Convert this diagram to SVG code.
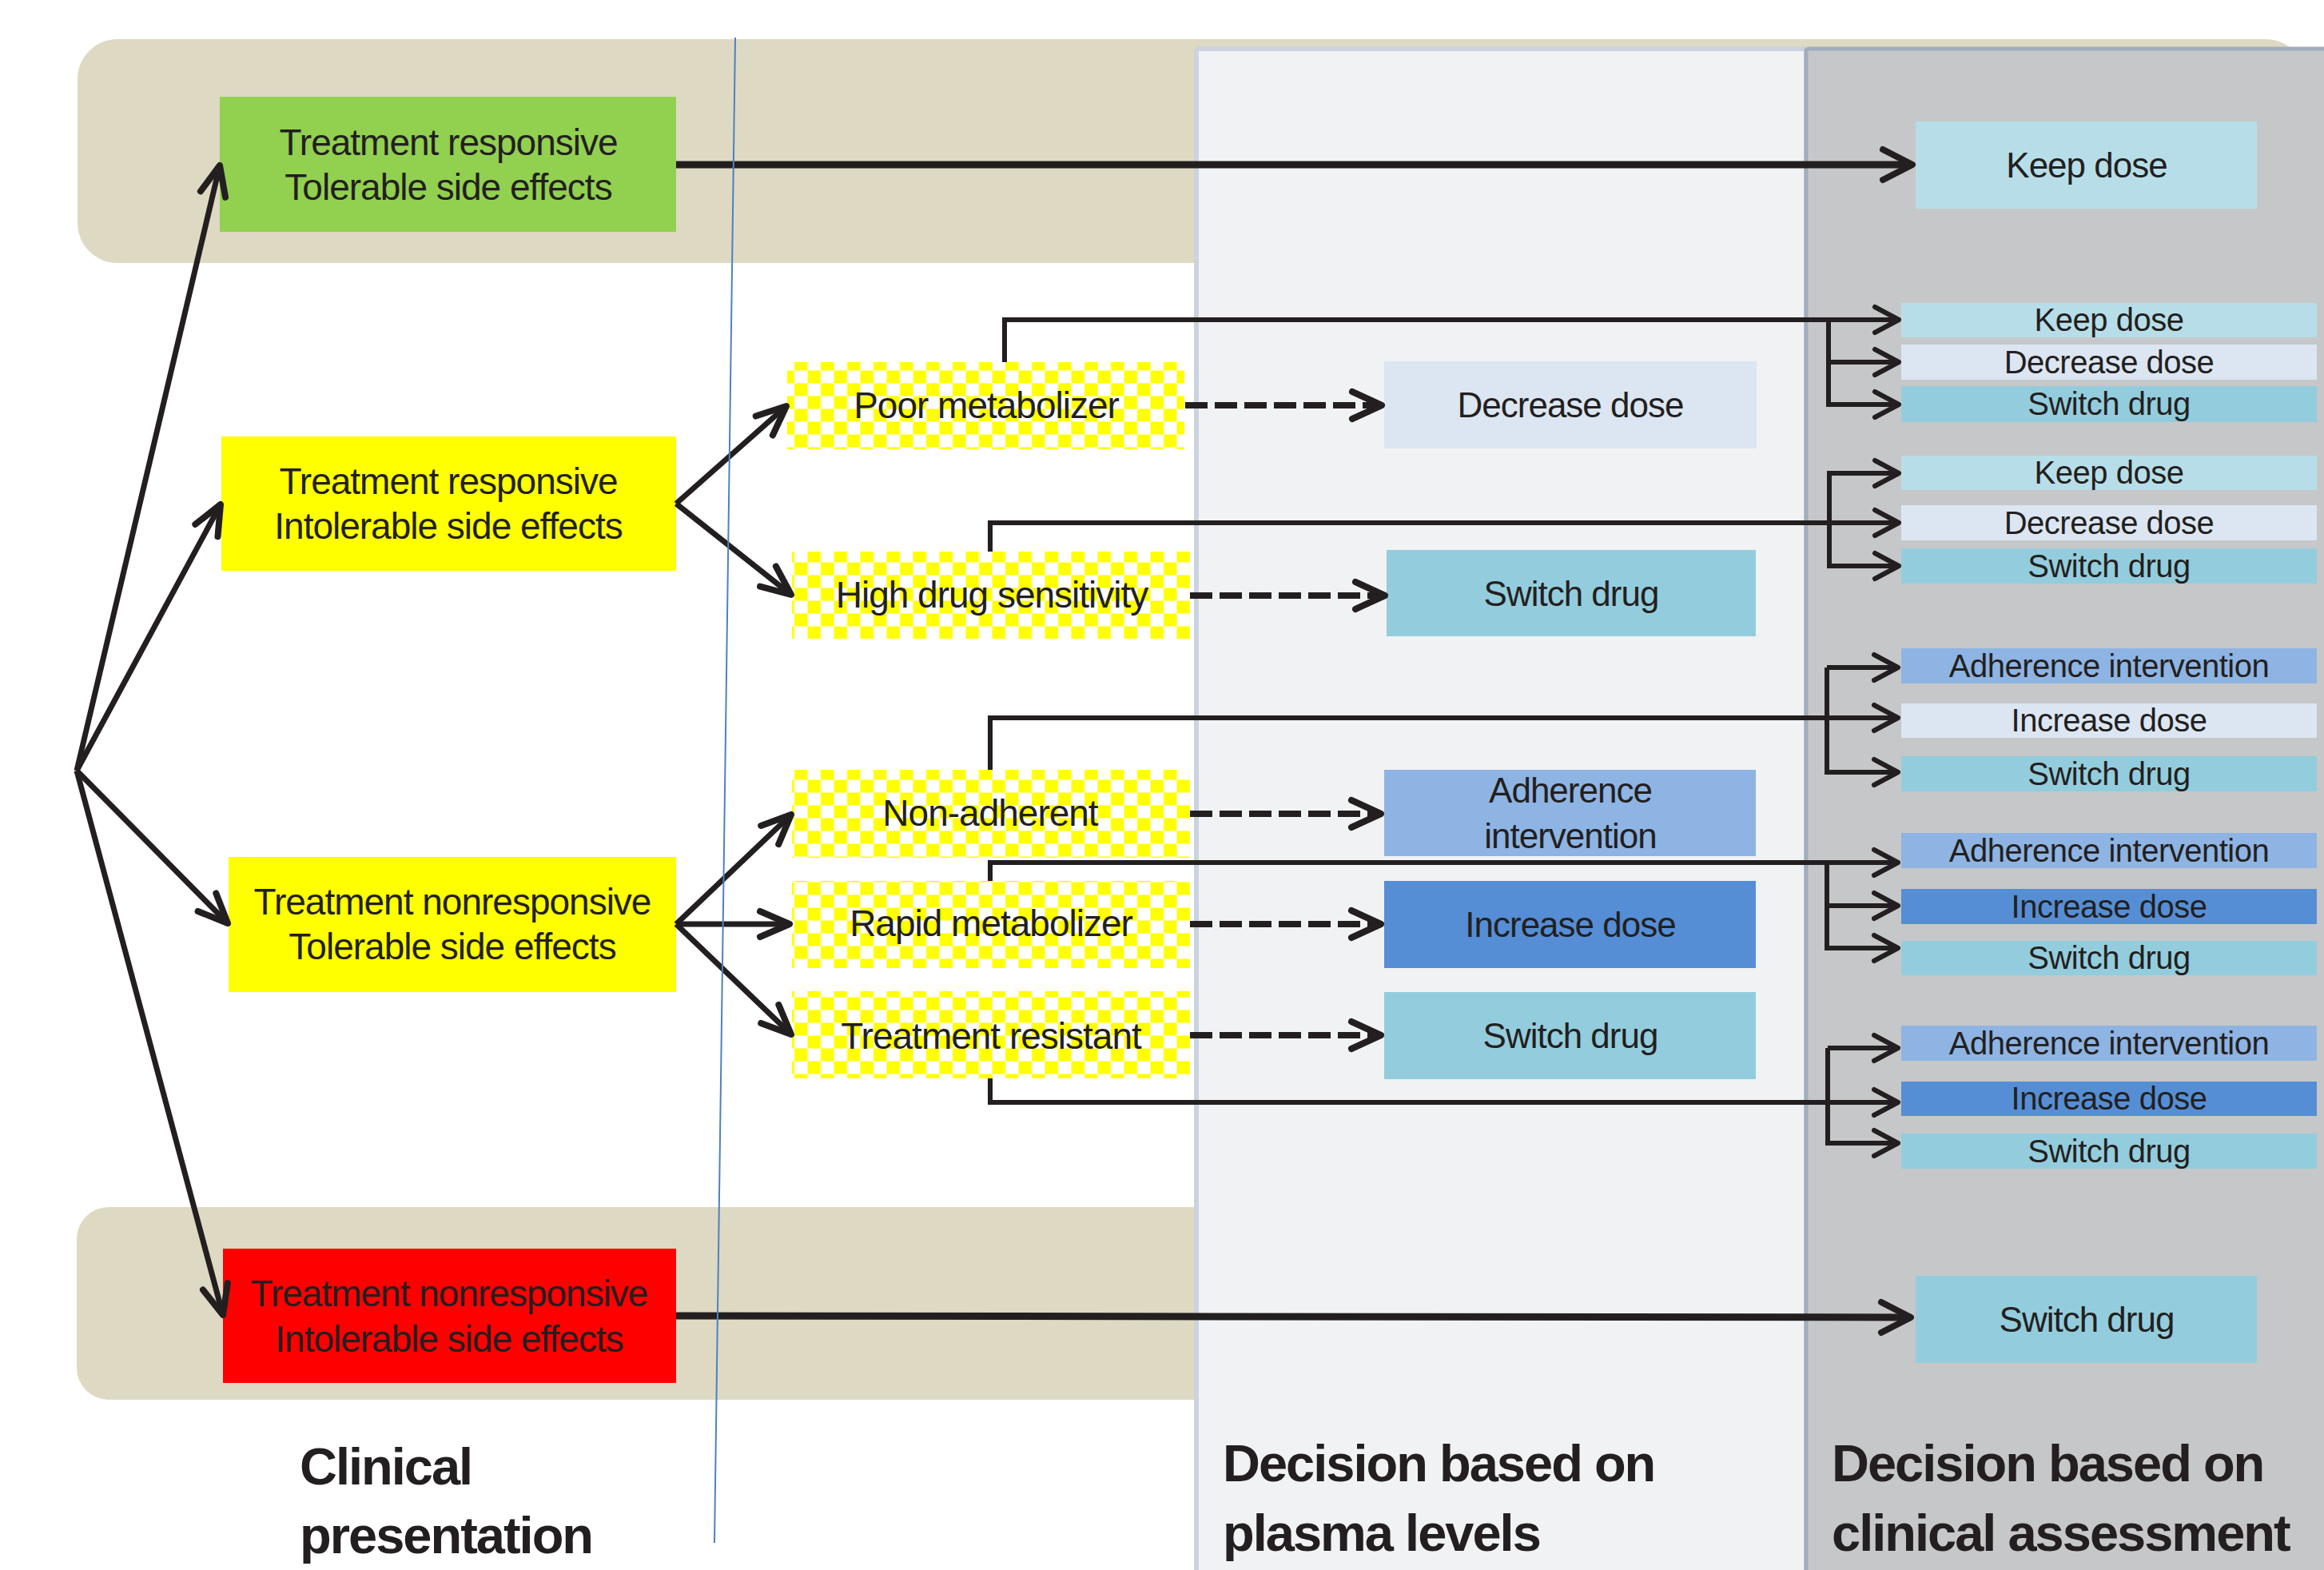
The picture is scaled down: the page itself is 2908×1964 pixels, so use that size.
<svg xmlns="http://www.w3.org/2000/svg" width="2908" height="1964" viewBox="0 0 2908 1964">
<style>
.t{font-family:"Liberation Sans",Arial,sans-serif;fill:#231f20;text-anchor:middle}
.n46{font-size:46px;letter-spacing:-1px}
.n44{font-size:44px;letter-spacing:-1px}
.n40{font-size:40px;letter-spacing:-0.5px}
.h{font-family:"Liberation Sans",Arial,sans-serif;fill:#231f20;font-weight:bold;font-size:65px;letter-spacing:-2px}
.main{fill:none;stroke:#231f20;stroke-width:9}
.fan{fill:none;stroke:#231f20;stroke-width:7}
.dash{fill:none;stroke:#231f20;stroke-width:8;stroke-dasharray:28 9}
.con{fill:none;stroke:#231f20;stroke-width:6;stroke-linejoin:miter}
.kd{fill:#b7dee8}.dd{fill:#dce6f2}.sd{fill:#93cddd}.ai{fill:#8eb4e3}.id{fill:#558ed5}
</style>
<defs>
<pattern id="chk" patternUnits="userSpaceOnUse" x="977.5" y="447.5" width="33" height="32">
<rect width="33" height="32" fill="#ffffff"/>
<rect x="16.5" y="0" width="16.5" height="16" fill="#ffff00"/>
<rect x="0" y="16" width="16.5" height="16" fill="#ffff00"/>
</pattern>
<marker id="ahL" markerUnits="userSpaceOnUse" viewBox="-50 -30 60 60" markerWidth="60" markerHeight="60" refX="0" refY="0" orient="auto" overflow="visible">
<path d="M-37,-19 L0,0 L-37,19" fill="none" stroke="#231f20" stroke-width="8" stroke-linecap="round" stroke-linejoin="round" stroke-dasharray="none"/>
</marker>
<marker id="ahD" markerUnits="userSpaceOnUse" viewBox="-50 -30 60 60" markerWidth="60" markerHeight="60" refX="0" refY="0" orient="auto" overflow="visible">
<path d="M-37,-17 L0,0 L-37,17" fill="none" stroke="#231f20" stroke-width="8" stroke-linecap="round" stroke-linejoin="round" stroke-dasharray="none"/>
</marker>
<marker id="ahF" markerUnits="userSpaceOnUse" viewBox="-50 -30 60 60" markerWidth="60" markerHeight="60" refX="0" refY="0" orient="auto" overflow="visible">
<path d="M-37,-16 L0,0 L-37,16" fill="none" stroke="#231f20" stroke-width="8" stroke-linecap="round" stroke-linejoin="round" stroke-dasharray="none"/>
</marker>
<marker id="ahS" markerUnits="userSpaceOnUse" viewBox="-50 -30 60 60" markerWidth="60" markerHeight="60" refX="0" refY="0" orient="auto" overflow="visible">
<path d="M-30,-16 L0,0 L-30,16" fill="none" stroke="#231f20" stroke-width="6" stroke-linecap="round" stroke-linejoin="round" stroke-dasharray="none"/>
</marker>
</defs>

<rect width="2908" height="1964" fill="#ffffff"/>

<g id="bands">
<rect x="97" y="49" width="2788" height="280" rx="50" ry="50" fill="#ddd9c3"/>
<rect x="96" y="1510" width="1520" height="241" rx="40" ry="40" fill="#ddd9c3"/>
</g>

<g id="panels">
<rect x="1497" y="61" width="763" height="1920" rx="3" fill="#f1f2f4" stroke="#cad3de" stroke-width="6"/>
<rect x="2260" y="61" width="660" height="1920" rx="3" fill="#c6c7c9" stroke="#a1adbd" stroke-width="5"/>
</g>

<g id="n-green">
<rect x="275" y="121" width="571" height="169" fill="#92d050"/>
<text class="t n46" x="561" y="194">Treatment responsive</text>
<text class="t n46" x="561" y="250">Tolerable side effects</text>
</g>
<g id="n-yellow1">
<rect x="277" y="546" width="569" height="168" fill="#ffff00"/>
<text class="t n46" x="561" y="618">Treatment responsive</text>
<text class="t n46" x="561" y="674">Intolerable side effects</text>
</g>
<g id="n-yellow2">
<rect x="286" y="1072" width="560" height="169" fill="#ffff00"/>
<text class="t n46" x="566" y="1144">Treatment nonresponsive</text>
<text class="t n46" x="566" y="1200">Tolerable side effects</text>
</g>
<g id="n-red">
<rect x="279" y="1562" width="567" height="168" fill="#ff0000"/>
<text class="t n46" x="562" y="1634">Treatment nonresponsive</text>
<text class="t n46" x="562" y="1691">Intolerable side effects</text>
</g>

<g id="n-poor">
<rect x="985" y="453" width="497" height="109" fill="url(#chk)"/>
<text class="t n46" x="1234" y="523">Poor metabolizer</text>
</g>
<g id="n-high">
<rect x="991" y="690" width="498" height="109" fill="url(#chk)"/>
<text class="t n46" x="1241" y="760">High drug sensitivity</text>
</g>
<g id="n-nonadh">
<rect x="991" y="963" width="498" height="110" fill="url(#chk)"/>
<text class="t n46" x="1239" y="1033">Non-adherent</text>
</g>
<g id="n-rapid">
<rect x="991" y="1102" width="498" height="109" fill="url(#chk)"/>
<text class="t n46" x="1240" y="1171">Rapid metabolizer</text>
</g>
<g id="n-resist">
<rect x="991" y="1240" width="498" height="109" fill="url(#chk)"/>
<text class="t n46" x="1240" y="1312">Treatment resistant</text>
</g>

<g id="p-decrease">
<rect x="1732" y="452" width="466" height="109" class="dd"/>
<text class="t n44" x="1965" y="522">Decrease dose</text>
</g>
<g id="p-switch1">
<rect x="1735" y="688" width="462" height="108" class="sd"/>
<text class="t n44" x="1966" y="758">Switch drug</text>
</g>
<g id="p-adherence">
<rect x="1732" y="963" width="465" height="108" class="ai"/>
<text class="t n44" x="1965" y="1004">Adherence</text>
<text class="t n44" x="1965" y="1061">intervention</text>
</g>
<g id="p-increase">
<rect x="1732" y="1102" width="465" height="109" class="id"/>
<text class="t n44" x="1965" y="1172">Increase dose</text>
</g>
<g id="p-switch2">
<rect x="1732" y="1241" width="465" height="109" class="sd"/>
<text class="t n44" x="1965" y="1311">Switch drug</text>
</g>

<g id="c-keep-top">
<rect x="2397" y="152" width="427" height="109" class="kd"/>
<text class="t n44" x="2611" y="222">Keep dose</text>
</g>
<g id="c-switch-bottom">
<rect x="2397" y="1596" width="427" height="109" class="sd"/>
<text class="t n44" x="2611" y="1666">Switch drug</text>
</g>

<g id="c-group1">
<rect x="2379" y="379" width="520" height="43" class="kd"/>
<text class="t n40" x="2639" y="414">Keep dose</text>
<rect x="2379" y="431" width="520" height="44" class="dd"/>
<text class="t n40" x="2639" y="467">Decrease dose</text>
<rect x="2379" y="483" width="520" height="45" class="sd"/>
<text class="t n40" x="2639" y="519">Switch drug</text>
</g>
<g id="c-group2">
<rect x="2379" y="570" width="520" height="43" class="kd"/>
<text class="t n40" x="2639" y="605">Keep dose</text>
<rect x="2379" y="632" width="520" height="44" class="dd"/>
<text class="t n40" x="2639" y="668">Decrease dose</text>
<rect x="2379" y="686" width="520" height="44" class="sd"/>
<text class="t n40" x="2639" y="722">Switch drug</text>
</g>
<g id="c-group3">
<rect x="2379" y="811" width="520" height="44" class="ai"/>
<text class="t n40" x="2639" y="847">Adherence intervention</text>
<rect x="2379" y="880" width="520" height="43" class="dd"/>
<text class="t n40" x="2639" y="915">Increase dose</text>
<rect x="2379" y="946" width="520" height="44" class="sd"/>
<text class="t n40" x="2639" y="982">Switch drug</text>
</g>
<g id="c-group4">
<rect x="2379" y="1042" width="520" height="44" class="ai"/>
<text class="t n40" x="2639" y="1078">Adherence intervention</text>
<rect x="2379" y="1112" width="520" height="44" class="id"/>
<text class="t n40" x="2639" y="1148">Increase dose</text>
<rect x="2379" y="1177" width="520" height="43" class="sd"/>
<text class="t n40" x="2639" y="1212">Switch drug</text>
</g>
<g id="c-group5">
<rect x="2379" y="1283" width="520" height="44" class="ai"/>
<text class="t n40" x="2639" y="1319">Adherence intervention</text>
<rect x="2379" y="1353" width="520" height="43" class="id"/>
<text class="t n40" x="2639" y="1388">Increase dose</text>
<rect x="2379" y="1418" width="520" height="44" class="sd"/>
<text class="t n40" x="2639" y="1454">Switch drug</text>
</g>

<g id="connectors">
<path class="main" d="M846,206 L2393,206" marker-end="url(#ahL)"/>
<path class="main" d="M846,1646 L2391,1648" marker-end="url(#ahL)"/>

<path class="fan" d="M96,964 L275,207" marker-end="url(#ahF)"/>
<path class="fan" d="M96,964 L276,631" marker-end="url(#ahF)"/>
<path class="fan" d="M96,964 L285,1155" marker-end="url(#ahF)"/>
<path class="fan" d="M96,964 L279,1645" marker-end="url(#ahF)"/>

<path class="fan" d="M846,630 L984,508" marker-end="url(#ahF)"/>
<path class="fan" d="M846,630 L990,744" marker-end="url(#ahF)"/>
<path class="fan" d="M846,1156 L990,1019" marker-end="url(#ahF)"/>
<path class="fan" d="M846,1156 L988,1156" marker-end="url(#ahF)"/>
<path class="fan" d="M846,1156 L990,1294" marker-end="url(#ahF)"/>

<path class="dash" d="M1483,507 L1729,507" marker-end="url(#ahD)"/>
<path class="dash" d="M1489,745 L1733,745" marker-end="url(#ahD)"/>
<path class="dash" d="M1489,1018 L1728,1018" marker-end="url(#ahD)"/>
<path class="dash" d="M1489,1156 L1728,1156" marker-end="url(#ahD)"/>
<path class="dash" d="M1489,1295 L1728,1295" marker-end="url(#ahD)"/>

<path class="con" d="M1257,453 L1257,400 L2376,400" marker-end="url(#ahS)"/>
<path class="con" d="M2288,400 L2288,506 L2376,506" marker-end="url(#ahS)"/>
<path class="con" d="M2288,453 L2376,453" marker-end="url(#ahS)"/>

<path class="con" d="M1239,690 L1239,654 L2376,654" marker-end="url(#ahS)"/>
<path class="con" d="M2376,592 L2289,592 L2289,708 L2376,708" marker-end="url(#ahS)"/>
<path class="con" d="M2289,592 L2376,592" marker-end="url(#ahS)"/>

<path class="con" d="M1239,963 L1239,898 L2375,898" marker-end="url(#ahS)"/>
<path class="con" d="M2286,835 L2286,966 L2375,966" marker-end="url(#ahS)"/>
<path class="con" d="M2286,835 L2375,835" marker-end="url(#ahS)"/>

<path class="con" d="M1239,1102 L1239,1079 L2375,1079" marker-end="url(#ahS)"/>
<path class="con" d="M2286,1079 L2286,1186 L2375,1186" marker-end="url(#ahS)"/>
<path class="con" d="M2286,1133 L2375,1133" marker-end="url(#ahS)"/>

<path class="con" d="M1239,1349 L1239,1379 L2375,1379" marker-end="url(#ahS)"/>
<path class="con" d="M2287,1311 L2287,1430 L2375,1430" marker-end="url(#ahS)"/>
<path class="con" d="M2287,1311 L2375,1311" marker-end="url(#ahS)"/>
</g>

<g id="labels">
<text class="h" x="375" y="1857">Clinical</text>
<text class="h" x="375" y="1943">presentation</text>
<text class="h" x="1530" y="1853">Decision based on</text>
<text class="h" x="1530" y="1940">plasma levels</text>
<text class="h" x="2292" y="1853">Decision based on</text>
<text class="h" x="2292" y="1940">clinical assessment</text>
</g>

<line id="divider" x1="920" y1="47" x2="894" y2="1930" stroke="#4f81bd" stroke-width="2"/>
</svg>
